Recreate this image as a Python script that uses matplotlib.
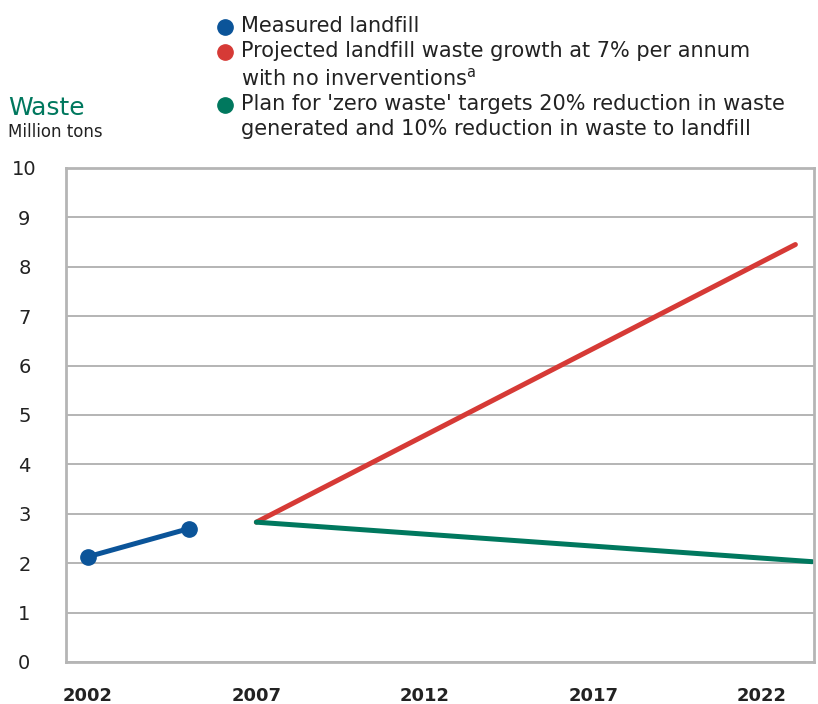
import matplotlib
matplotlib.use("Agg")
import matplotlib.pyplot as plt
from matplotlib.lines import Line2D

plt.rcParams['font.family'] = ['DejaVu Sans']

# data
measured_years = [2002, 2005]
measured_vals = [2.13, 2.70]
projected_years = [2007, 2023]
projected_vals = [2.83, 8.45]
plan_years = [2007, 2023.5]
plan_vals = [2.83, 2.03]

x_ticks = [2002, 2007, 2012, 2017, 2022]
y_ticks = list(range(0, 11))

blue = '#0b5499'
red = '#d63a36'
green = '#00785e'
grid_col = '#a8a8a8'

fig = plt.figure(figsize=(8.18, 7.04), dpi=100)
ax = fig.add_axes([0.0807, 0.0597, 0.9143, 0.7017])

ax.plot(measured_years, measured_vals, color=blue, lw=3.6, marker='o', ms=11, solid_capstyle='round')
ax.plot(projected_years, projected_vals, color=red, lw=3.6, solid_capstyle='round')
ax.plot(plan_years, plan_vals, color=green, lw=3.6, solid_capstyle='round')

ax.set_xlim(2001.35, 2023.55)
ax.set_ylim(0, 10)
ax.set_xticks(x_ticks)
ax.set_yticks(y_ticks)
ax.set_xticklabels([str(t) for t in x_ticks], fontsize=13, fontweight='bold', color='#222222')
ax.set_yticklabels([str(t) for t in y_ticks], fontsize=14, color='#222222')
ax.tick_params(axis='both', length=0)
ax.tick_params(axis='x', pad=18)
ax.tick_params(axis='y', pad=30)
for lab in ax.get_yticklabels():
    lab.set_horizontalalignment('center')
ax.grid(axis='y', color=grid_col, lw=1.2)
ax.set_axisbelow(True)
for s in ax.spines.values():
    s.set_color('#b5b5b5')
    s.set_linewidth(2)

# titles
fig.text(8 / 818, 1 - 108 / 704, 'Waste', fontsize=18, color=green, va='center', ha='left')
fig.text(8 / 818, 1 - 132 / 704, 'Million tons', fontsize=12, color='#222222', va='center', ha='left')

# legend
legend_items = [
    (blue, 27, 'Measured landfill'),
    (red, 52, 'Projected landfill waste growth at 7% per annum\nwith no inverventions$^{\\mathregular{a}}$'),
    (green, 105, "Plan for 'zero waste' targets 20% reduction in waste\ngenerated and 10% reduction in waste to landfill"),
]
for col, ypx, txt in legend_items:
    fig.add_artist(Line2D([225 / 818], [1 - ypx / 704], marker='o', color=col, ms=11, ls='none',
                          transform=fig.transFigure))
    fig.text(241 / 818, 1 - (ypx - 11) / 704, txt, fontsize=15, color='#222222',
             va='top', ha='left', linespacing=1.33)

fig.savefig('out.png', dpi=100)
